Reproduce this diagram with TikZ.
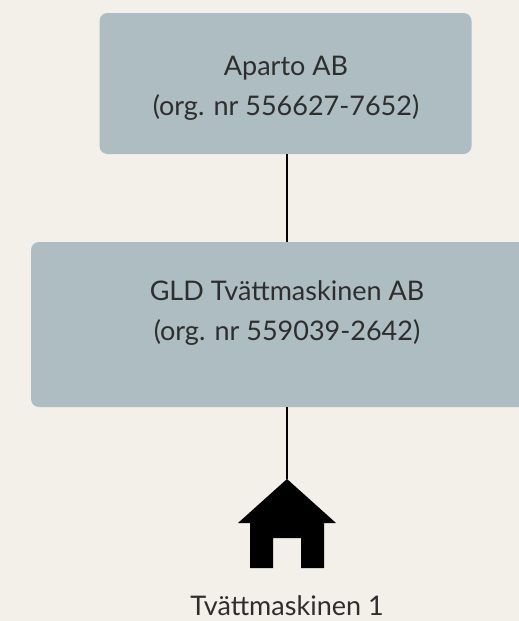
\documentclass[tikz,border=0pt]{standalone}
\usepackage{fontspec}
\setmainfont{Lato}
\definecolor{boxfill}{HTML}{AEBDC1}
\definecolor{paper}{HTML}{F3F0EA}
\definecolor{ink}{HTML}{2E2E2E}
\begin{document}
\begin{tikzpicture}[x=1pt,y=1pt,
    company/.style={fill=boxfill, rounded corners=8pt, inner sep=0pt},
    label text/.style={text=ink, align=center, font=\fontsize{27}{40}\selectfont}]
  \fill[paper] (0,0) rectangle (519,-621);
  \useasboundingbox (0,0) rectangle (519,-621);
  \node[company, minimum width=372pt, minimum height=141pt] (aparto) at (285.5,-83.5) {};
  \node[label text] (apartotext) at (286,-88) {Aparto AB\\(org. nr 556627-7652)};
  \node[company, minimum width=512pt, minimum height=165pt] (gld) at (287,-324.5) {};
  \node[label text] (gldtext) at (287,-313) {GLD Tvättmaskinen AB\\(org. nr 559039-2642)};
  % house
  \coordinate (roof) at (287,-479);
  \fill (roof) -- (336,-523) -- (324,-523) -- (324,-568) -- (301,-568) -- (301,-538)
    -- (273,-538) -- (273,-568) -- (250,-568) -- (250,-523) -- (238,-523) -- cycle;
  \node[label text, anchor=base] (wash1) at (287,-615) {Tvättmaskinen 1};
  \begin{scope}[line width=1.6pt]
    \draw (aparto.south -| gld.north) to (gld.north);
    \draw (gld.south) to (roof);
  \end{scope}
\end{tikzpicture}
\end{document}
